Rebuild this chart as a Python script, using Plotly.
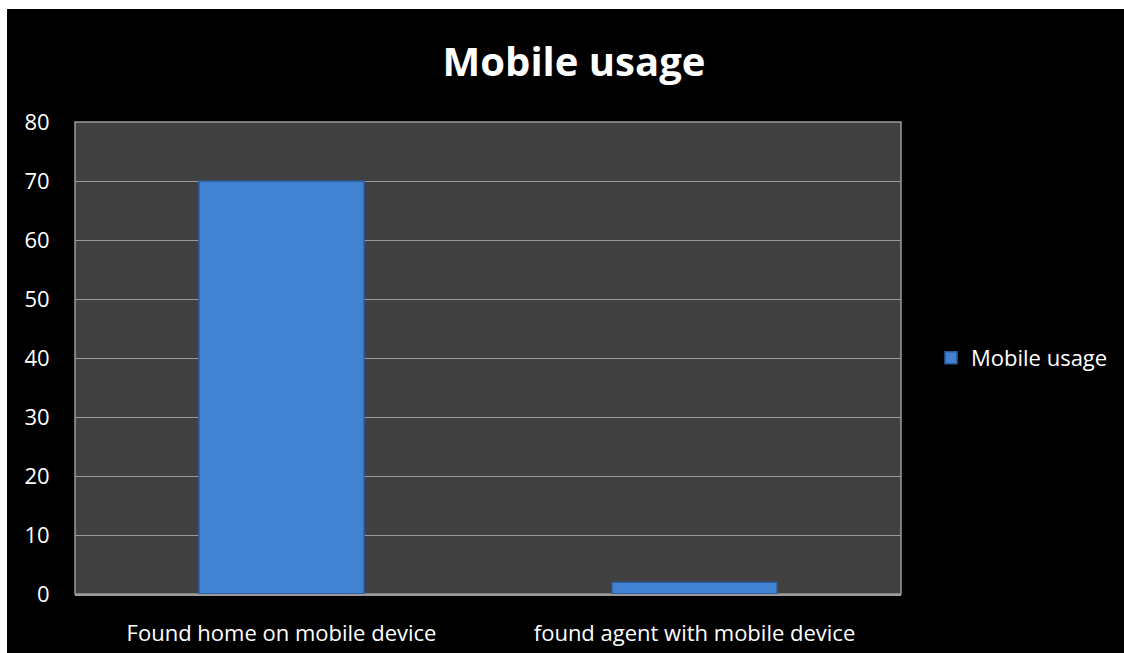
import plotly.graph_objects as go

# Survey results: share of respondents using a mobile device
categories = ["Found home on mobile device", "found agent with mobile device"]
values = [70, 2]
series_name = "Mobile usage"
y_ticks = [0, 10, 20, 30, 40, 50, 60, 70, 80]

FONT = "'Open Sans', Lato, sans-serif"
PLOT_BG = "#404040"
GRID = "#9a9a9a"
BAR = "#4282d2"
BAR_EDGE = "#2c5c98"

W, H = 1124, 653
L, R, T, B = 75, 1124 - 901, 122, 653 - 594
pw, ph = W - L - R, H - T - B


def px_x(p):
    return (p - L) / pw


def px_y(p):
    return (H - B - p) / ph


fig = go.Figure()
fig.add_trace(go.Bar(
    x=categories,
    y=values,
    name=series_name,
    marker=dict(color=BAR, line=dict(color=BAR_EDGE, width=1.5)),
    showlegend=True,
))

fig.update_layout(
    width=W,
    height=H,
    margin=dict(l=L, r=R, t=T, b=B, autoexpand=False),
    paper_bgcolor="white",
    plot_bgcolor=PLOT_BG,
    bargap=0.6,
    font=dict(family=FONT, color="white", size=22),
    title=dict(
        text="<b>Mobile usage</b>",
        x=574 / W,
        xref="container",
        y=1 - 62 / H,
        yref="container",
        yanchor="middle",
        xanchor="center",
        font=dict(family=FONT, size=40, color="white"),
    ),
    xaxis=dict(
        automargin=False,
        showgrid=False,
        showline=True,
        linecolor=GRID,
        linewidth=2,
        ticks="outside",
        ticklen=19,
        tickcolor="rgba(0,0,0,0)",
        tickfont=dict(size=22, color="white"),
        mirror=False,
    ),
    yaxis=dict(
        automargin=False,
        range=[0, 80],
        tickvals=y_ticks,
        showgrid=True,
        gridcolor=GRID,
        gridwidth=1,
        zeroline=False,
        showline=False,
        ticks="outside",
        ticklen=20,
        tickcolor="rgba(0,0,0,0)",
        tickfont=dict(size=22, color="white"),
    ),
    legend=dict(
        x=px_x(931),
        xanchor="left",
        y=0.5,
        yanchor="middle",
        font=dict(size=22, color="white"),
        bgcolor="rgba(0,0,0,0)",
    ),
    shapes=[
        # black chart area inside the white frame
        dict(type="rect", xref="paper", yref="paper", layer="below",
             x0=px_x(7), x1=px_x(W + 5), y0=px_y(H + 5), y1=px_y(9),
             fillcolor="black", line=dict(width=0)),
        # plot area panel with light border
        dict(type="rect", xref="paper", yref="paper", layer="below",
             x0=0, x1=1, y0=0, y1=1,
             fillcolor=PLOT_BG, line=dict(color=GRID, width=1.5)),
    ],
)

fig.write_html("out.html")
